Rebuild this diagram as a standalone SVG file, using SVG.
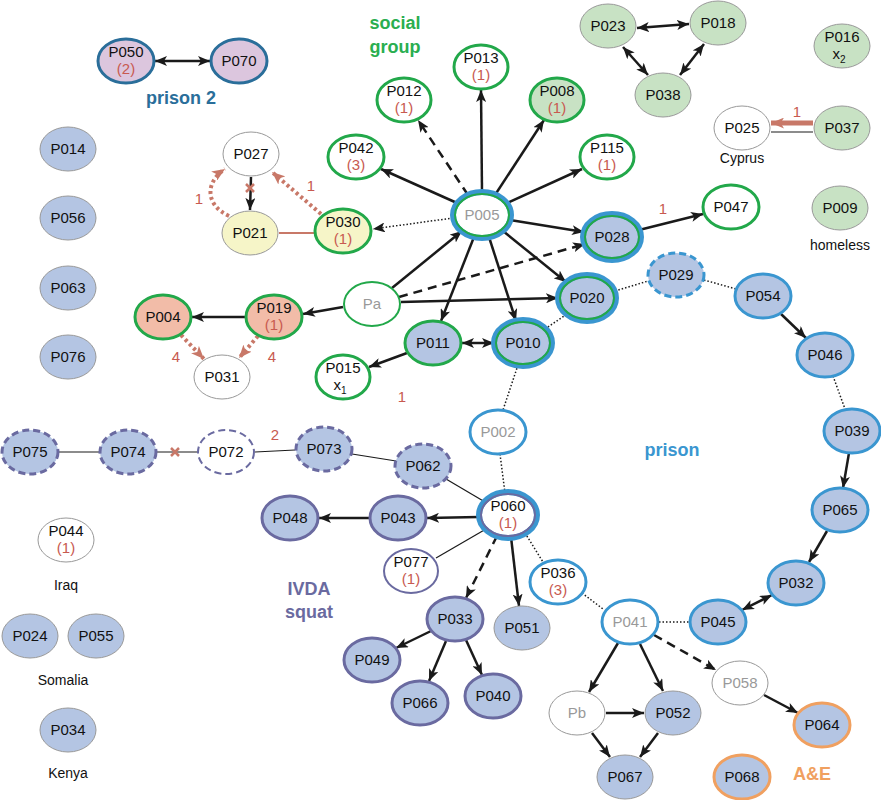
<svg xmlns="http://www.w3.org/2000/svg" width="881" height="800" viewBox="0 0 881 800">
<defs>
<marker id="a" viewBox="0 0 12 10" markerWidth="12" markerHeight="10" refX="12" refY="5" orient="auto-start-reverse" markerUnits="userSpaceOnUse"><path d="M0,0L12,5L0,10L3,5z" fill="#1a1a1a"/></marker>
<marker id="r" viewBox="0 0 12 10" markerWidth="13" markerHeight="11" refX="12" refY="5" orient="auto" markerUnits="userSpaceOnUse"><path d="M0,0L12,5L0,10L3,5z" fill="#c87868"/></marker>
<style>
text{font-family:"Liberation Sans",Arial,sans-serif;font-size:15px;fill:#111;text-anchor:middle}
.g{fill:#999}.n{fill:#c85a50}
.lb{font-weight:bold;font-size:18px}
.sm{font-size:14px}
ellipse{stroke-width:1}
.th{stroke:#999;stroke-width:1}
.bf{fill:#b4c5e3}.wf{fill:#fff}.gf{fill:#c8e2c4}.yf{fill:#f6f5c8}.sf{fill:#f2bca8}.pf{fill:#dcc6de}
.gr{stroke:#22a84a;stroke-width:3}
.bl{stroke:#3a96d0;stroke-width:3}
.blo{stroke:#3a96d0;stroke-width:6}
.pu{stroke:#6a6aa0;stroke-width:3}
.db{stroke:#2a6e9a;stroke-width:3}
.or{stroke:#f0a060;stroke-width:3}
.ds{stroke-dasharray:7 4}
.e{stroke:#1a1a1a;stroke-width:2.5;fill:none}
.ea{marker-end:url(#a)}
.bi{marker-start:url(#a);marker-end:url(#a)}
.dash{stroke-dasharray:9 6}
.dot{stroke:#1a1a1a;stroke-width:1.5;stroke-dasharray:1.5 2;fill:none}
.t{stroke:#1a1a1a;stroke-width:1.2;fill:none}
.rd{stroke:#c87868;stroke-width:4;stroke-dasharray:3 3;fill:none;marker-end:url(#r)}
</style>
</defs>
<g id="connectors">
<line class="e bi" x1="155" y1="61" x2="210" y2="61"/>
<line class="e bi" x1="637" y1="28" x2="689" y2="24"/>
<line class="e bi" x1="623" y1="47" x2="648" y2="75"/>
<line class="e bi" x1="704" y1="44" x2="680" y2="75"/>
<line x1="813" y1="123" x2="771" y2="123" stroke="#c87868" stroke-width="5" marker-end="url(#r)"/>
<line class="t" x1="813" y1="132" x2="771" y2="132"/>
<text x="797" y="117" class="n">1</text>
<line class="e ea" x1="251" y1="177" x2="250" y2="210"/>
<path d="M246,184l8,8M254,184l-8,8" stroke="#c87868" stroke-width="2.5"/>
<path class="rd" d="M229,216C205,205 205,182 225,169"/>
<text x="199" y="204" class="n">1</text>
<line class="rd" x1="321" y1="214" x2="272" y2="172"/>
<text x="311" y="191" class="n">1</text>
<line x1="279" y1="233" x2="314" y2="233" stroke="#c87868" stroke-width="2"/>
<line class="e ea" x1="457" y1="203" x2="381" y2="169"/>
<line class="e ea dash" x1="468" y1="195" x2="418" y2="120"/>
<line class="e ea" x1="482" y1="192" x2="481" y2="90"/>
<line class="e ea" x1="495" y1="195" x2="544" y2="120"/>
<line class="e ea" x1="507" y1="203" x2="582" y2="169"/>
<line class="e ea" x1="510" y1="220" x2="584" y2="232"/>
<line class="e ea" x1="503" y1="231" x2="566" y2="282"/>
<line class="e ea" x1="474" y1="237" x2="441" y2="321"/>
<line class="e ea" x1="489" y1="237" x2="516" y2="321"/>
<line class="dot" x1="453" y1="218" x2="373" y2="229" stroke-width="2" marker-end="url(#a)"/>
<line class="e ea" x1="392" y1="288" x2="462" y2="231"/>
<line class="e ea dash" x1="399" y1="297" x2="585" y2="244"/>
<line class="e ea" x1="401" y1="302" x2="558" y2="298"/>
<line class="e ea" x1="343" y1="307" x2="303" y2="314"/>
<line class="e ea" x1="245" y1="317" x2="192" y2="317"/>
<line class="rd" x1="181" y1="335" x2="204" y2="359"/>
<text x="176" y="362" class="n">4</text>
<line class="rd" x1="258" y1="336" x2="239" y2="358"/>
<text x="272" y="362" class="n">4</text>
<line class="e bi" x1="462" y1="343" x2="494" y2="343"/>
<line class="e ea" x1="407" y1="353" x2="369" y2="367"/>
<text x="402" y="402" class="n">1</text>
<line class="e ea" x1="639" y1="230" x2="703" y2="214"/>
<text x="663" y="214" class="n">1</text>
<line class="dot" x1="615" y1="291" x2="648" y2="281"/>
<line class="dot" x1="545" y1="329" x2="567" y2="314"/>
<line class="dot" x1="518" y1="365" x2="503" y2="410"/>
<line class="dot" x1="500" y1="454" x2="505" y2="493"/>
<line class="dot" x1="525" y1="533" x2="543" y2="562"/>
<line class="dot" x1="582" y1="593" x2="603" y2="609"/>
<line class="dot" x1="659" y1="622" x2="689" y2="622"/>
<line class="dot" x1="704" y1="280" x2="736" y2="289"/>
<line class="dot" x1="833" y1="376" x2="845" y2="409"/>
<line class="e ea" x1="781" y1="314" x2="806" y2="338"/>
<line class="e ea" x1="849" y1="453" x2="843" y2="488"/>
<line class="e ea" x1="827" y1="531" x2="809" y2="562"/>
<line class="e bi" x1="772" y1="595" x2="742" y2="610"/>
<line class="e ea" x1="479" y1="517" x2="427" y2="518"/>
<line class="e ea" x1="369" y1="518" x2="319" y2="518"/>
<line class="t" x1="485" y1="502" x2="446" y2="479"/>
<line class="t" x1="486" y1="529" x2="436" y2="558"/>
<line class="e ea dash" x1="497" y1="536" x2="466" y2="598"/>
<line class="e ea" x1="511" y1="537" x2="519" y2="606"/>
<line class="e ea" x1="431" y1="631" x2="396" y2="648"/>
<line class="e ea" x1="446" y1="641" x2="429" y2="681"/>
<line class="e ea" x1="466" y1="640" x2="482" y2="675"/>
<line class="t" x1="59" y1="452" x2="99" y2="452"/>
<line class="t" x1="157" y1="452" x2="197" y2="452"/>
<path d="M171,448l8,8M179,448l-8,8" stroke="#c87868" stroke-width="2.5"/>
<line class="t" x1="255" y1="452" x2="295" y2="450"/>
<text x="275" y="440" class="n">2</text>
<line class="t" x1="352" y1="454" x2="396" y2="461"/>
<line class="e ea" x1="618" y1="643" x2="589" y2="692"/>
<line class="e ea" x1="640" y1="644" x2="663" y2="691"/>
<line class="e ea dash" x1="654" y1="635" x2="716" y2="670"/>
<line class="e ea" x1="606" y1="713" x2="644" y2="713"/>
<line class="e ea" x1="592" y1="733" x2="610" y2="757"/>
<line class="e ea" x1="658" y1="733" x2="640" y2="757"/>
<line class="e ea" x1="764" y1="695" x2="798" y2="713"/>
</g>
<g id="labels">
<text x="395" y="29" class="lb" style="fill:#2aae50">social</text>
<text x="395" y="53" class="lb" style="fill:#2aae50">group</text>
<text x="181" y="104" class="lb" style="fill:#2a6e9a">prison 2</text>
<text x="672" y="456" class="lb" style="fill:#3a96d0">prison</text>
<text x="309" y="595" class="lb" style="fill:#6a6aa0">IVDA</text>
<text x="309" y="618" class="lb" style="fill:#6a6aa0">squat</text>
<text x="812" y="780" class="lb" style="fill:#f0a060">A&amp;E</text>
<text x="66" y="590" class="sm">Iraq</text>
<text x="63" y="685" class="sm">Somalia</text>
<text x="68" y="778" class="sm">Kenya</text>
<text x="742" y="163" class="sm">Cyprus</text>
<text x="840" y="250" class="sm">homeless</text>
</g>
<g id="P050"><ellipse cx="126" cy="61" rx="28" ry="22" class="pf db"/><text x="126" y="57">P050</text><text x="126" y="74" class="n">(2)</text></g>
<g id="P070"><ellipse cx="239" cy="61" rx="28" ry="22" class="pf db"/><text x="239" y="66">P070</text></g>
<g id="P014"><ellipse cx="68" cy="149" rx="28" ry="22" class="bf th"/><text x="68" y="154">P014</text></g>
<g id="P056"><ellipse cx="68" cy="218" rx="28" ry="22" class="bf th"/><text x="68" y="223">P056</text></g>
<g id="P063"><ellipse cx="68" cy="288" rx="28" ry="22" class="bf th"/><text x="68" y="293">P063</text></g>
<g id="P076"><ellipse cx="68" cy="357" rx="28" ry="22" class="bf th"/><text x="68" y="362">P076</text></g>
<g id="P027"><ellipse cx="251" cy="154" rx="28" ry="22" class="wf th"/><text x="251" y="159">P027</text></g>
<g id="P021"><ellipse cx="250" cy="233" rx="28" ry="22" class="yf th"/><text x="250" y="238">P021</text></g>
<g id="P030"><ellipse cx="343" cy="231" rx="28" ry="22" class="yf gr"/><text x="343" y="227">P030</text><text x="343" y="244" class="n">(1)</text></g>
<g id="P042"><ellipse cx="356" cy="157" rx="28" ry="22" class="wf gr"/><text x="356" y="153">P042</text><text x="356" y="170" class="n">(3)</text></g>
<g id="P012"><ellipse cx="404" cy="100" rx="27" ry="22" class="wf gr"/><text x="404" y="96">P012</text><text x="404" y="113" class="n">(1)</text></g>
<g id="P013"><ellipse cx="481" cy="67" rx="27" ry="22" class="wf gr"/><text x="481" y="63">P013</text><text x="481" y="80" class="n">(1)</text></g>
<g id="P008"><ellipse cx="557" cy="100" rx="27" ry="22" class="gf gr"/><text x="557" y="96">P008</text><text x="557" y="113" class="n">(1)</text></g>
<g id="P115"><ellipse cx="607" cy="157" rx="27" ry="22" class="wf gr"/><text x="607" y="153">P115</text><text x="607" y="170" class="n">(1)</text></g>
<g id="P005"><ellipse cx="482" cy="215" rx="29" ry="23" class="wf blo"/><ellipse cx="482" cy="215" rx="27" ry="21" fill="none" class="gr" style="stroke-width:2"/><text x="482" y="220" class="g">P005</text></g>
<g id="P028"><ellipse cx="612" cy="237" rx="29" ry="23" class="bf blo"/><ellipse cx="612" cy="237" rx="27" ry="21" fill="none" class="gr" style="stroke-width:2"/><text x="612" y="242">P028</text></g>
<g id="P020"><ellipse cx="587" cy="298" rx="29" ry="23" class="bf blo"/><ellipse cx="587" cy="298" rx="27" ry="21" fill="none" class="gr" style="stroke-width:2"/><text x="587" y="303">P020</text></g>
<g id="P010"><ellipse cx="523" cy="343" rx="29" ry="23" class="bf blo"/><ellipse cx="523" cy="343" rx="27" ry="21" fill="none" class="gr" style="stroke-width:2"/><text x="523" y="348">P010</text></g>
<g id="P047"><ellipse cx="731" cy="207" rx="28" ry="22" class="wf gr"/><text x="731" y="212">P047</text></g>
<g id="P029"><ellipse cx="676" cy="275" rx="28" ry="22" class="bf bl ds"/><text x="676" y="280">P029</text></g>
<g id="P054"><ellipse cx="763" cy="296" rx="28" ry="22" class="bf bl"/><text x="763" y="301">P054</text></g>
<g id="P046"><ellipse cx="825" cy="355" rx="28" ry="22" class="bf bl"/><text x="825" y="360">P046</text></g>
<g id="P039"><ellipse cx="852" cy="431" rx="28" ry="22" class="bf bl"/><text x="852" y="436">P039</text></g>
<g id="P065"><ellipse cx="840" cy="510" rx="28" ry="22" class="bf bl"/><text x="840" y="515">P065</text></g>
<g id="P032"><ellipse cx="796" cy="583" rx="28" ry="22" class="bf bl"/><text x="796" y="588">P032</text></g>
<g id="P045"><ellipse cx="718" cy="622" rx="28" ry="22" class="bf bl"/><text x="718" y="627">P045</text></g>
<g id="P023"><ellipse cx="608" cy="26" rx="28" ry="22" class="gf th"/><text x="608" y="31">P023</text></g>
<g id="P018"><ellipse cx="718" cy="23" rx="28" ry="22" class="gf th"/><text x="718" y="28">P018</text></g>
<g id="P038"><ellipse cx="663" cy="95" rx="28" ry="22" class="gf th"/><text x="663" y="100">P038</text></g>
<g id="P016"><ellipse cx="842" cy="46" rx="28" ry="22" class="gf th"/><text x="842" y="42">P016</text><text x="839" y="59">x<tspan font-size="10" dy="4">2</tspan></text></g>
<g id="P025"><ellipse cx="742" cy="128" rx="28" ry="22" class="wf th"/><text x="742" y="133">P025</text></g>
<g id="P037"><ellipse cx="842" cy="128" rx="28" ry="22" class="gf th"/><text x="842" y="133">P037</text></g>
<g id="P009"><ellipse cx="840" cy="208" rx="28" ry="22" class="gf th"/><text x="840" y="213">P009</text></g>
<g id="Pa"><ellipse cx="372" cy="304" rx="28" ry="22" class="wf gr" style="stroke-width:2"/><text x="372" y="309" class="g">Pa</text></g>
<g id="P019"><ellipse cx="274" cy="317" rx="28" ry="22" class="sf gr"/><text x="274" y="313">P019</text><text x="274" y="330" class="n">(1)</text></g>
<g id="P004"><ellipse cx="163" cy="317" rx="28" ry="22" class="sf gr"/><text x="163" y="322">P004</text></g>
<g id="P031"><ellipse cx="222" cy="377" rx="28" ry="22" class="wf th"/><text x="222" y="382">P031</text></g>
<g id="P015"><ellipse cx="343" cy="377" rx="27" ry="22" class="wf gr"/><text x="343" y="373">P015</text><text x="340" y="390">x<tspan font-size="10" dy="4">1</tspan></text></g>
<g id="P011"><ellipse cx="433" cy="343" rx="28" ry="22" class="bf gr"/><text x="433" y="348">P011</text></g>
<g id="P002"><ellipse cx="498" cy="432" rx="28" ry="22" class="wf bl"/><text x="498" y="437" class="g">P002</text></g>
<g id="P060"><ellipse cx="508" cy="515" rx="29" ry="23" class="wf blo"/><ellipse cx="508" cy="515" rx="27" ry="21" fill="none" class="pu" style="stroke-width:2"/><text x="508" y="511">P060</text><text x="508" y="528" class="n">(1)</text></g>
<g id="P036"><ellipse cx="558" cy="582" rx="28" ry="22" class="wf bl"/><text x="558" y="578">P036</text><text x="558" y="595" class="n">(3)</text></g>
<g id="P041"><ellipse cx="630" cy="622" rx="28" ry="22" class="wf bl"/><text x="630" y="627" class="g">P041</text></g>
<g id="P062"><ellipse cx="423" cy="466" rx="28" ry="22" class="bf pu ds"/><text x="423" y="471">P062</text></g>
<g id="P043"><ellipse cx="398" cy="518" rx="28" ry="22" class="bf pu"/><text x="398" y="523">P043</text></g>
<g id="P048"><ellipse cx="290" cy="518" rx="28" ry="22" class="bf pu"/><text x="290" y="523">P048</text></g>
<g id="P077"><ellipse cx="411" cy="571" rx="27" ry="22" class="wf pu" style="stroke-width:2"/><text x="411" y="567">P077</text><text x="411" y="584" class="n">(1)</text></g>
<g id="P075"><ellipse cx="30" cy="452" rx="28" ry="22" class="bf pu ds"/><text x="30" y="457">P075</text></g>
<g id="P074"><ellipse cx="128" cy="452" rx="28" ry="22" class="bf pu ds"/><text x="128" y="457">P074</text></g>
<g id="P072"><ellipse cx="226" cy="452" rx="28" ry="22" class="wf pu ds" style="stroke-width:2"/><text x="226" y="457">P072</text></g>
<g id="P073"><ellipse cx="324" cy="449" rx="28" ry="22" class="bf pu ds"/><text x="324" y="454">P073</text></g>
<g id="P033"><ellipse cx="455" cy="619" rx="28" ry="22" class="bf pu"/><text x="455" y="624">P033</text></g>
<g id="P051"><ellipse cx="522" cy="628" rx="28" ry="22" class="bf th"/><text x="522" y="633">P051</text></g>
<g id="P049"><ellipse cx="372" cy="660" rx="28" ry="22" class="bf pu"/><text x="372" y="665">P049</text></g>
<g id="P066"><ellipse cx="420" cy="703" rx="28" ry="22" class="bf pu"/><text x="420" y="708">P066</text></g>
<g id="P040"><ellipse cx="493" cy="696" rx="28" ry="22" class="bf pu"/><text x="493" y="701">P040</text></g>
<g id="Pb"><ellipse cx="577" cy="713" rx="28" ry="22" class="wf th"/><text x="577" y="718" class="g">Pb</text></g>
<g id="P052"><ellipse cx="673" cy="713" rx="28" ry="22" class="bf th"/><text x="673" y="718">P052</text></g>
<g id="P067"><ellipse cx="625" cy="777" rx="28" ry="22" class="bf th"/><text x="625" y="782">P067</text></g>
<g id="P058"><ellipse cx="740" cy="683" rx="28" ry="22" class="wf th"/><text x="740" y="688" class="g">P058</text></g>
<g id="P064"><ellipse cx="822" cy="725" rx="28" ry="22" class="bf or"/><text x="822" y="730">P064</text></g>
<g id="P068"><ellipse cx="742" cy="777" rx="28" ry="22" class="bf or"/><text x="742" y="782">P068</text></g>
<g id="P044"><ellipse cx="66" cy="540" rx="28" ry="22" class="wf th"/><text x="66" y="536">P044</text><text x="66" y="553" class="n">(1)</text></g>
<g id="P024"><ellipse cx="30" cy="636" rx="28" ry="22" class="bf th"/><text x="30" y="641">P024</text></g>
<g id="P055"><ellipse cx="96" cy="636" rx="28" ry="22" class="bf th"/><text x="96" y="641">P055</text></g>
<g id="P034"><ellipse cx="68" cy="730" rx="28" ry="22" class="bf th"/><text x="68" y="735">P034</text></g>
</svg>
